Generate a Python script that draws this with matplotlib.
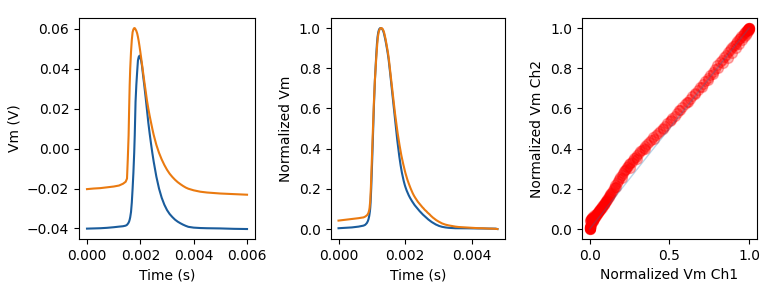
import matplotlib
matplotlib.use("Agg")
import matplotlib.pyplot as plt
import numpy as np

# ---- Panel 1: raw traces (time in ms, Vm in V) ----
t_raw_ms = [0.0, 0.25, 0.5, 0.75, 1.0, 1.2, 1.35, 1.45, 1.5, 1.53, 1.56, 1.58, 1.6, 1.62,
            1.65, 1.68, 1.71, 1.74, 1.77, 1.79, 1.82, 1.85, 1.88, 1.91, 1.94, 1.97, 2.0,
            2.03, 2.06, 2.1, 2.15, 2.2, 2.25, 2.3, 2.35, 2.4, 2.45, 2.5, 2.6, 2.7, 2.8,
            2.9, 3.0, 3.1, 3.2, 3.3, 3.4, 3.5, 3.6, 3.7, 3.8, 4.0, 4.25, 4.5, 5.0, 5.5, 6.0]
ch1_raw = [-0.0401, -0.0400, -0.0399, -0.0397, -0.0394, -0.0391, -0.0389, -0.0386, -0.0382,
           -0.0377, -0.0371, -0.0365, -0.0356, -0.0344, -0.0318, -0.0270, -0.0200, -0.0120,
           -0.0020, 0.0067, 0.0234, 0.0320, 0.0384, 0.0442, 0.0460, 0.0466, 0.0455, 0.0440,
           0.0417, 0.0370, 0.0315, 0.0255, 0.0192, 0.0129, 0.0075, 0.0025, -0.0022, -0.0065,
           -0.0140, -0.0200, -0.0246, -0.0281, -0.0308, -0.0328, -0.0343, -0.0356, -0.0366,
           -0.0374, -0.0381, -0.0387, -0.0392, -0.0396, -0.0398, -0.0399, -0.0400, -0.0402,
           -0.0403]
ch2_raw = [-0.0203, -0.0200, -0.0198, -0.0194, -0.0190, -0.0185, -0.0176, -0.0166, -0.0150,
           -0.0050, 0.0067, 0.0200, 0.0317, 0.0400, 0.0484, 0.0545, 0.0584, 0.0598, 0.0604,
           0.0604, 0.0598, 0.0590, 0.0578, 0.0560, 0.0538, 0.0512, 0.0484, 0.0455, 0.0425,
           0.0385, 0.0335, 0.0288, 0.0240, 0.0200, 0.0164, 0.0131, 0.0099, 0.0069, 0.0019,
           -0.0021, -0.0054, -0.0082, -0.0106, -0.0126, -0.0142, -0.0156, -0.0168, -0.0178,
           -0.0187, -0.0195, -0.0201, -0.0209, -0.0216, -0.0220, -0.0225, -0.0228, -0.0231]

# ---- Panel 2: aligned, normalized traces (time in ms) ----
t_base = [0.0, 0.1, 0.2, 0.3, 0.4, 0.5, 0.6, 0.7, 0.75, 0.8, 0.85, 0.88]
t_fast = [0.90, 0.91, 0.92, 0.93, 0.94, 0.95, 0.96, 0.97, 0.98, 0.99,
          1.00, 1.01, 1.02, 1.03, 1.04, 1.05, 1.06, 1.07, 1.08, 1.09,
          1.10, 1.11, 1.12, 1.13, 1.14, 1.15, 1.16, 1.17, 1.18, 1.19,
          1.20, 1.21, 1.22, 1.23, 1.24, 1.25, 1.26, 1.27, 1.28, 1.29,
          1.30, 1.31, 1.32, 1.33, 1.34, 1.35, 1.36, 1.37, 1.38, 1.39,
          1.40, 1.41, 1.42, 1.43, 1.44, 1.45, 1.46, 1.47, 1.48, 1.49,
          1.50, 1.51, 1.52, 1.53, 1.54, 1.55, 1.56, 1.57, 1.58, 1.59,
          1.60, 1.61, 1.62, 1.63, 1.64, 1.65, 1.66, 1.67, 1.68, 1.69,
          1.70, 1.71, 1.72, 1.73, 1.74, 1.75, 1.76, 1.77, 1.78, 1.79,
          1.80, 1.81, 1.82, 1.83, 1.84, 1.85, 1.86, 1.87, 1.88, 1.89,
          1.90, 1.91, 1.92, 1.93, 1.94, 1.95, 1.96, 1.97, 1.98, 1.99]
t_slow = [2.00, 2.02, 2.04, 2.06, 2.08, 2.10, 2.12, 2.14, 2.16, 2.18,
          2.20, 2.22, 2.24, 2.26, 2.28, 2.30, 2.32, 2.34, 2.36, 2.38,
          2.40, 2.42, 2.44, 2.46, 2.48, 2.50, 2.52, 2.54, 2.56, 2.58,
          2.60, 2.62, 2.64, 2.66, 2.68, 2.70, 2.72, 2.74, 2.76, 2.78,
          2.80, 2.82, 2.84, 2.86, 2.88, 2.90, 2.92, 2.94, 2.96, 2.98]
t_tail = [3.0, 3.1, 3.2, 3.3, 3.4, 3.5, 3.6, 3.7, 3.8, 3.9, 4.0, 4.1, 4.2, 4.3, 4.4,
          4.5, 4.6, 4.7, 4.76]

ch1_base = [0.004, 0.005, 0.006, 0.007, 0.008, 0.010, 0.012, 0.015, 0.017, 0.021, 0.030, 0.040]
ch1_fast = [0.050, 0.057, 0.065, 0.075, 0.088, 0.105, 0.130, 0.165, 0.205, 0.250,
            0.300, 0.350, 0.405, 0.458, 0.510, 0.562, 0.612, 0.660, 0.704, 0.742,
            0.775, 0.806, 0.836, 0.866, 0.895, 0.920, 0.940, 0.957, 0.970, 0.979,
            0.986, 0.991, 0.995, 0.997, 0.999, 1.000, 1.000, 1.000, 0.999, 0.998,
            0.997, 0.995, 0.992, 0.989, 0.985, 0.980, 0.974, 0.967, 0.960, 0.952,
            0.944, 0.936, 0.927, 0.918, 0.909, 0.899, 0.889, 0.879, 0.868, 0.857,
            0.845, 0.831, 0.816, 0.801, 0.786, 0.771, 0.756, 0.740, 0.724, 0.708,
            0.692, 0.677, 0.661, 0.645, 0.630, 0.614, 0.598, 0.582, 0.566, 0.550,
            0.534, 0.518, 0.502, 0.487, 0.472, 0.457, 0.442, 0.428, 0.414, 0.400,
            0.387, 0.374, 0.362, 0.350, 0.339, 0.328, 0.317, 0.307, 0.297, 0.288,
            0.279, 0.271, 0.263, 0.255, 0.248, 0.241, 0.234, 0.228, 0.222, 0.216]
ch1_slow = [0.211, 0.201, 0.192, 0.184, 0.176, 0.169, 0.162, 0.156, 0.150, 0.144,
            0.139, 0.134, 0.129, 0.124, 0.119, 0.115, 0.111, 0.107, 0.103, 0.099,
            0.095, 0.091, 0.087, 0.084, 0.080, 0.077, 0.073, 0.070, 0.067, 0.064,
            0.061, 0.058, 0.055, 0.052, 0.049, 0.046, 0.044, 0.041, 0.039, 0.036,
            0.034, 0.032, 0.030, 0.028, 0.026, 0.024, 0.022, 0.021, 0.019, 0.018]
ch1_tail = [0.016, 0.011, 0.008, 0.006, 0.005, 0.004, 0.004, 0.0035, 0.0035, 0.0035,
            0.003, 0.003, 0.003, 0.0025, 0.0025, 0.002, 0.002, 0.002, 0.0]

ch2_base = [0.042, 0.044, 0.046, 0.048, 0.050, 0.052, 0.054, 0.057, 0.058, 0.062, 0.068, 0.075]
ch2_fast = [0.082, 0.088, 0.095, 0.105, 0.120, 0.140, 0.170, 0.210, 0.255, 0.302,
            0.350, 0.398, 0.448, 0.497, 0.545, 0.590, 0.632, 0.672, 0.708, 0.742,
            0.772, 0.800, 0.826, 0.852, 0.877, 0.900, 0.921, 0.940, 0.956, 0.968,
            0.977, 0.984, 0.989, 0.993, 0.996, 0.998, 0.999, 1.000, 1.000, 1.000,
            0.999, 0.998, 0.996, 0.993, 0.990, 0.986, 0.981, 0.975, 0.968, 0.961,
            0.953, 0.945, 0.936, 0.927, 0.918, 0.909, 0.899, 0.889, 0.879, 0.868,
            0.857, 0.843, 0.829, 0.814, 0.799, 0.783, 0.768, 0.753, 0.738, 0.723,
            0.708, 0.693, 0.678, 0.663, 0.648, 0.634, 0.620, 0.606, 0.592, 0.578,
            0.565, 0.552, 0.539, 0.526, 0.513, 0.501, 0.489, 0.478, 0.467, 0.456,
            0.445, 0.435, 0.425, 0.415, 0.405, 0.395, 0.386, 0.377, 0.368, 0.360,
            0.352, 0.344, 0.336, 0.329, 0.322, 0.315, 0.308, 0.301, 0.294, 0.287]
ch2_slow = [0.281, 0.269, 0.258, 0.247, 0.237, 0.228, 0.219, 0.210, 0.202, 0.194,
            0.186, 0.179, 0.172, 0.166, 0.160, 0.155, 0.150, 0.145, 0.140, 0.135,
            0.131, 0.127, 0.123, 0.119, 0.115, 0.111, 0.107, 0.104, 0.100, 0.096,
            0.093, 0.090, 0.087, 0.083, 0.080, 0.077, 0.074, 0.071, 0.067, 0.064,
            0.061, 0.058, 0.055, 0.053, 0.050, 0.048, 0.045, 0.043, 0.041, 0.039]
ch2_tail = [0.037, 0.028, 0.022, 0.018, 0.015, 0.012, 0.010, 0.009, 0.008, 0.007,
            0.006, 0.005, 0.004, 0.004, 0.003, 0.002, 0.002, 0.001, 0.0]

t_norm_ms = t_base + t_fast + t_slow + t_tail
ch1_norm = ch1_base + ch1_fast + ch1_slow + ch1_tail
ch2_norm = ch2_base + ch2_fast + ch2_slow + ch2_tail

identity_line = [0.0, 1.0]

BLUE = "#1a5c9c"
ORANGE = "#ea7a10"

fig = plt.figure(figsize=(7.67, 2.87), dpi=100)
ax1 = fig.add_axes([0.103, 0.167, 0.2295, 0.770])
ax2 = fig.add_axes([0.431, 0.167, 0.2279, 0.770])
ax3 = fig.add_axes([0.7584, 0.167, 0.2286, 0.770])

t1 = np.array(t_raw_ms) / 1000.0
ax1.plot(t1, ch1_raw, color=BLUE, lw=1.5)
ax1.plot(t1, ch2_raw, color=ORANGE, lw=1.5)
ax1.set_xlabel("Time (s)")
ax1.set_ylabel("Vm (V)")
ax1.set_xticks([0.0, 0.002, 0.004, 0.006])

t2 = np.array(t_norm_ms) / 1000.0
ax2.plot(t2, ch1_norm, color=BLUE, lw=1.5)
ax2.plot(t2, ch2_norm, color=ORANGE, lw=1.5)
ax2.set_xlabel("Time (s)")
ax2.set_ylabel("Normalized Vm")
ax2.set_xticks([0.0, 0.002, 0.004])

ax3.plot(identity_line, identity_line, color="#1f77b4", alpha=0.3, lw=1)
ax3.scatter(ch1_norm, ch2_norm, s=50, color="red", alpha=0.3)
ax3.set_xlabel("Normalized Vm Ch1")
ax3.set_ylabel("Normalized Vm Ch2")
ax3.set_xticks([0.0, 0.5, 1.0])

fig.savefig("out.png", dpi=100)
